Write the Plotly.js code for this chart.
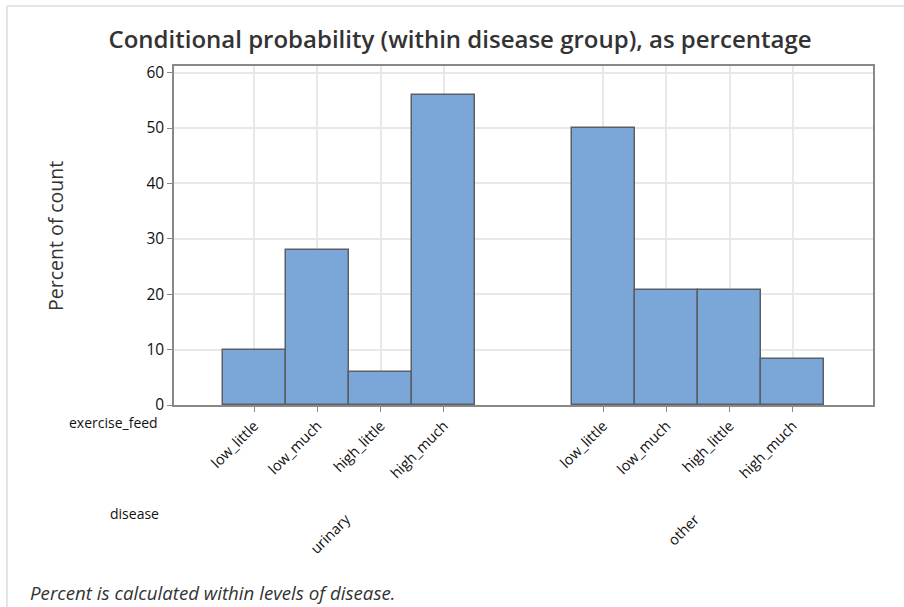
<!DOCTYPE html>
<html>
<head>
<meta charset="utf-8">
<script src="https://cdn.plot.ly/plotly-3.0.1.min.js"></script>
<style>
html,body{margin:0;padding:0;background:#fff;}
#chart{width:904px;height:607px;}
</style>
</head>
<body>
<div id="chart"></div>
<script>
// ---- data ----
const diseases = ["urinary", "other"];
const exerciseFeed = ["low_little", "low_much", "high_little", "high_much"];
const urinaryPct = [10, 28, 6, 56];
const otherPct = [50, 20.83, 20.83, 8.33];
const seriesValues = [urinaryPct, otherPct];

// ---- layout geometry ----
const W = 904, H = 607;
const M = {l: 174, r: 31, t: 66, b: 202};
const plotW = W - M.l - M.r, plotH = H - M.t - M.b;
const pad = 0.77, gap = 1.52;
const groupSpan = exerciseFeed.length + gap;
const xMax = 2 * pad + exerciseFeed.length * diseases.length + gap * (diseases.length - 1);
const yMax = 61.2;

function px2x(px){ return (px - M.l) / plotW; }
function py2y(py){ return (H - M.b - py) / plotH; }

const xs = [], ys = [], ticks = [], tickText = [], groupCenters = [];
diseases.forEach((d, g) => {
  exerciseFeed.forEach((e, i) => {
    const c = pad + 0.5 + i + g * groupSpan;
    xs.push(c); ys.push(seriesValues[g][i]);
    ticks.push(c); tickText.push(e);
  });
  groupCenters.push(pad + exerciseFeed.length / 2 + g * groupSpan);
});

const font = "'Open Sans', 'Noto Sans', sans-serif";

const trace = {
  type: 'bar', x: xs, y: ys, width: 1,
  marker: {color: '#7BA7D8', line: {color: '#5a5f66', width: 1.5}},
  hoverinfo: 'x+y'
};

const annotations = [
  {xref:'paper', yref:'paper', x: px2x(55), y: py2y(236), xanchor:'center', yanchor:'middle',
   text: 'Percent of count', textangle: -90, showarrow:false, font:{family:font, size:19.5, color:'#333'}},
  {xref:'paper', yref:'paper', x: px2x(160), y: py2y(422), xanchor:'right', yanchor:'middle',
   text:'exercise_feed', showarrow:false, font:{family:font, size:14, color:'#111'}},
  {xref:'paper', yref:'paper', x: px2x(161), y: py2y(513), xanchor:'right', yanchor:'middle',
   text:'disease', showarrow:false, font:{family:font, size:14, color:'#111'}},
  {xref:'paper', yref:'paper', x: px2x(28), y: py2y(592), xanchor:'left', yanchor:'middle',
   text:'<i>Percent is calculated within levels of disease.</i>', showarrow:false,
   font:{family:font, size:18.7, color:'#333'}}
];
diseases.forEach((d, g) => {
  annotations.push({xref:'x', yref:'paper', x: groupCenters[g] + 0.13, y: py2y(507),
    xanchor:'right', yanchor:'top', text: d, textangle:-45, showarrow:false,
    font:{family:font, size:14.5, color:'#111'}});
});

const shapes = [
  {type:'line', xref:'paper', yref:'paper', x0:px2x(7), x1:px2x(904), y0:py2y(6), y1:py2y(6),
   line:{color:'#dcdcdc', width:1.5}},
  {type:'line', xref:'paper', yref:'paper', x0:px2x(7), x1:px2x(7), y0:py2y(6), y1:py2y(607),
   line:{color:'#dcdcdc', width:1.5}}
];

const layout = {
  width: W, height: H,
  margin: {l: M.l, r: M.r, t: M.t, b: M.b, pad: 0},
  paper_bgcolor:'#fff', plot_bgcolor:'#fff',
  showlegend:false,
  title: {text:'Conditional probability (within disease group), as percentage',
    x: 460/W, xanchor:'center', y: 1 - 40/H, yanchor:'middle', xref:'container', yref:'container',
    font:{family:font, size:24, weight:600, color:'#333'}},
  xaxis: {range:[0, xMax], tickvals: ticks, ticktext: tickText, tickangle:-45,
    showgrid:true, gridcolor:'#e8e8e8', gridwidth:1.5,
    ticks:'outside', ticklen:5, tickcolor:'#888', tickwidth:1,
    showline:true, linecolor:'#888', linewidth:1.5, mirror:true, zeroline:false,
    tickfont:{family:font, size:14.5, color:'#111'}, fixedrange:true},
  yaxis: {range:[0, yMax], tickvals:[0,10,20,30,40,50,60],
    showgrid:true, gridcolor:'#e8e8e8', gridwidth:1.5,
    ticks:'outside', ticklen:5, tickcolor:'#888', tickwidth:1,
    showline:true, linecolor:'#888', linewidth:1.5, mirror:true, zeroline:false,
    tickfont:{family:font, size:15.5, color:'#111'}, fixedrange:true},
  annotations: annotations,
  shapes: shapes,
  bargap: 0
};

Plotly.newPlot('chart', [trace], layout, {displayModeBar:false});
</script>
</body>
</html>
